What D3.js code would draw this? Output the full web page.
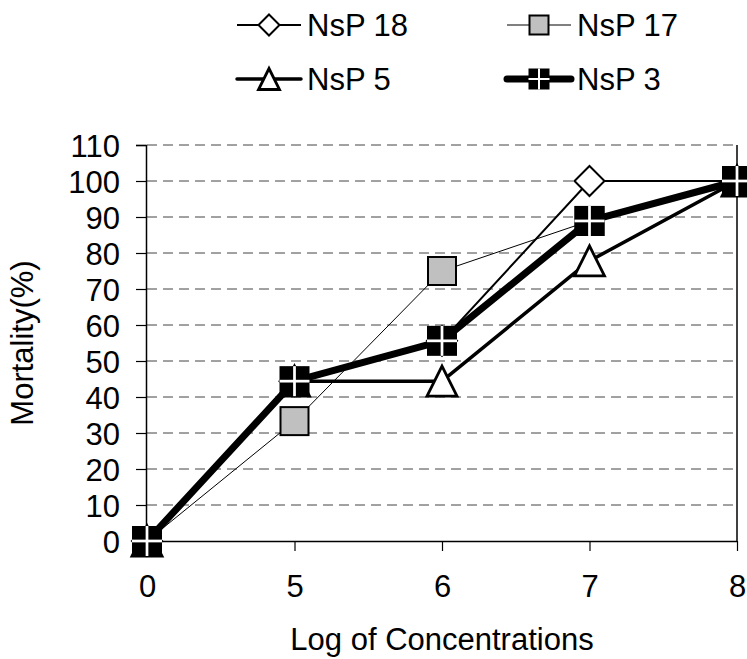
<!DOCTYPE html>
<html>
<head>
<meta charset="utf-8">
<script src="https://cdn.jsdelivr.net/npm/d3@7"></script>
<style>
  html, body { margin: 0; padding: 0; background: #fff; }
  svg { display: block; }
  text { font-family: Arial, "Liberation Sans", sans-serif; fill: #000; }
</style>
</head>
<body>
<svg id="chart" width="747" height="659"></svg>
<script>
// Log of concentration categories (evenly spaced on the x axis)
const categories = ["0", "5", "6", "7", "8"];

// Mortality (%) for each treatment
const nsp18 = [0, 44.4, 55.6, 100, 100];
const nsp17 = [0, 33.3, 75, 88.9, 100];
const nsp5  = [0, 44.4, 44.4, 77.8, 100];
const nsp3  = [0, 44.4, 55.6, 88.9, 100];

const seriesNames = ["NsP 18", "NsP 17", "NsP 5", "NsP 3"];
const yTicks = [0, 10, 20, 30, 40, 50, 60, 70, 80, 90, 100, 110];

const series = [
  { name: seriesNames[0], values: nsp18, width: 2,   marker: "diamond"  },
  { name: seriesNames[1], values: nsp17, width: 1,   marker: "square"   },
  { name: seriesNames[2], values: nsp5,  width: 3.5, marker: "triangle" },
  { name: seriesNames[3], values: nsp3,  width: 7,   marker: "cross"    }
];

const svg = d3.select("#chart");
const plot = { left: 147, right: 737, top: 145, bottom: 541 };
const FONT = 31;

const x = d3.scalePoint().domain(categories).range([plot.left, plot.right]);
const y = d3.scaleLinear().domain([0, 110]).range([plot.bottom, plot.top]);

// dashed horizontal gridlines
svg.append("g")
  .selectAll("line")
  .data(yTicks.filter(d => d > 0))
  .join("line")
  .attr("x1", plot.left).attr("x2", plot.right)
  .attr("y1", d => y(d)).attr("y2", d => y(d))
  .attr("stroke", "#444")
  .attr("stroke-width", 1.1)
  .attr("stroke-dasharray", "10,6");

// right frame edge
svg.append("line")
  .attr("x1", plot.right).attr("x2", plot.right)
  .attr("y1", plot.top).attr("y2", plot.bottom)
  .attr("stroke", "#000").attr("stroke-width", 1.5);

// y axis
const yAxis = svg.append("g")
  .attr("transform", `translate(${plot.left - 1},0)`)
  .call(d3.axisLeft(y).tickValues(yTicks).tickSize(10).tickPadding(16));
// x axis
const xAxis = svg.append("g")
  .attr("transform", `translate(0,${plot.bottom})`)
  .call(d3.axisBottom(x).tickSize(10).tickPadding(24));

[yAxis, xAxis].forEach(g => {
  g.select(".domain").attr("stroke", "#000").attr("stroke-width", 1.5);
  g.selectAll(".tick line").attr("stroke", "#000").attr("stroke-width", 1.2);
  g.selectAll(".tick text")
    .style("font-family", 'Arial, "Liberation Sans", sans-serif')
    .attr("font-size", FONT).attr("fill", "#000");
});
yAxis.selectAll(".tick text").attr("dy", "0.38em");
xAxis.select(".domain").attr("d", `M${plot.left},0.5H${plot.right}`);
xAxis.selectAll(".tick").filter(d => d === categories[0]).select("line").remove();

// axis titles
svg.append("text")
  .attr("x", (plot.left + plot.right) / 2).attr("y", 650)
  .attr("text-anchor", "middle").attr("font-size", FONT)
  .text("Log of Concentrations");
svg.append("text")
  .attr("transform", `translate(33,${(plot.top + plot.bottom) / 2}) rotate(-90)`)
  .attr("text-anchor", "middle").attr("font-size", FONT)
  .text("Mortality(%)");

// marker drawing helper
function drawMarker(g, type, cx, cy, s) {
  const h = s / 2;
  if (type === "diamond") {
    g.append("path")
      .attr("d", `M${cx},${cy - h}L${cx + h},${cy}L${cx},${cy + h}L${cx - h},${cy}Z`)
      .attr("fill", "#fff").attr("stroke", "#000").attr("stroke-width", 2);
  } else if (type === "square") {
    g.append("rect")
      .attr("x", cx - h + 1).attr("y", cy - h + 1)
      .attr("width", s - 2).attr("height", s - 2)
      .attr("fill", "#c0c0c0").attr("stroke", "#000").attr("stroke-width", 2);
  } else if (type === "triangle") {
    g.append("path")
      .attr("d", `M${cx},${cy - h}L${cx + h},${cy + h}L${cx - h},${cy + h}Z`)
      .attr("fill", "#fff").attr("stroke", "#000").attr("stroke-width", 2.8)
      .attr("stroke-linejoin", "miter");
  } else if (type === "cross") {
    g.append("rect")
      .attr("x", cx - h).attr("y", cy - h)
      .attr("width", s).attr("height", s).attr("fill", "#000");
    const w = Math.max(2, s / 11);
    g.append("rect").attr("x", cx - w / 2).attr("y", cy - h)
      .attr("width", w).attr("height", s).attr("fill", "#fff");
    g.append("rect").attr("x", cx - h).attr("y", cy - w / 2)
      .attr("width", s).attr("height", w).attr("fill", "#fff");
  }
}

// series: line first, then markers, in series order
const line = d3.line().x((d, i) => x(categories[i])).y(d => y(d));
series.forEach(s => {
  const g = svg.append("g");
  g.append("path")
    .attr("d", line(s.values))
    .attr("fill", "none").attr("stroke", "#000")
    .attr("stroke-width", s.width).attr("stroke-linejoin", "round");
  s.values.forEach((v, i) => drawMarker(g, s.marker, x(categories[i]), y(v), 30));
});

// legend, two columns by two rows
const legendPos = [
  { x: 237, y: 25 }, { x: 507, y: 25 },
  { x: 237, y: 79 }, { x: 507, y: 79 }
];
series.forEach((s, i) => {
  const p = legendPos[i];
  const g = svg.append("g");
  g.append("line")
    .attr("x1", p.x).attr("x2", p.x + 64)
    .attr("y1", p.y).attr("y2", p.y)
    .attr("stroke", "#000").attr("stroke-width", s.width)
    .attr("stroke-linecap", s.width > 3 ? "round" : "butt");
  drawMarker(g, s.marker, p.x + 32, p.y, 21);
  g.append("text")
    .attr("x", p.x + 70).attr("y", p.y + 11)
    .attr("font-size", FONT)
    .text(s.name);
});
</script>
</body>
</html>
